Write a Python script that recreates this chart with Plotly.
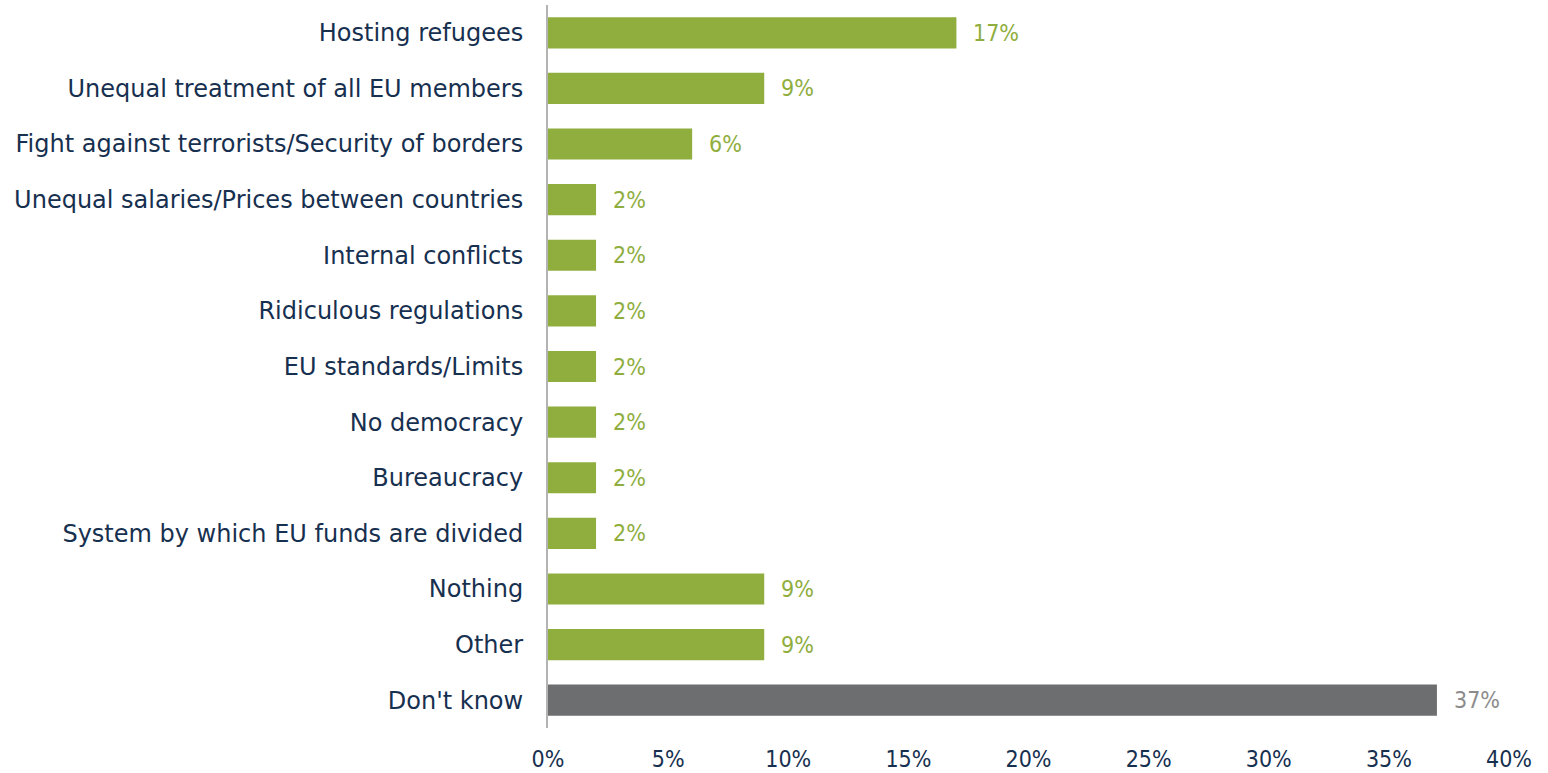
import plotly.graph_objects as go

categories = [
    "Hosting refugees",
    "Unequal treatment of all EU members",
    "Fight against terrorists/Security of borders",
    "Unequal salaries/Prices between countries",
    "Internal conflicts",
    "Ridiculous regulations",
    "EU standards/Limits",
    "No democracy",
    "Bureaucracy",
    "System by which EU funds are divided",
    "Nothing",
    "Other",
    "Don't know",
]
values = [17, 9, 6, 2, 2, 2, 2, 2, 2, 2, 9, 9, 37]
tick_vals = [0, 5, 10, 15, 20, 25, 30, 35, 40]
tick_text = ["0%", "5%", "10%", "15%", "20%", "25%", "30%", "35%", "40%"]

GREEN = "#8fae3e"
GREY = "#6d6e70"
NAVY = "#17304f"
FONT = "DejaVu Sans"
NARROW = "Liberation Sans Narrow, DejaVu Sans Condensed, sans-serif"

bar_colors = [GREY if c == "Don't know" else GREEN for c in categories]
label_colors = ["#8c8c8c" if c == "Don't know" else GREEN for c in categories]

fig = go.Figure()
fig.add_trace(go.Bar(
    x=values,
    y=categories,
    orientation="h",
    marker=dict(color=bar_colors, line=dict(width=0)),
    width=0.56,
    hoverinfo="skip",
))

for c, v, col in zip(categories, values, label_colors):
    fig.add_annotation(
        x=v, y=c, text=f"{v}%", showarrow=False,
        xanchor="left", yanchor="middle", xshift=15,
        font=dict(family=NARROW, size=23, color=col),
    )

fig.update_layout(
    width=1548, height=773,
    margin=dict(l=548, r=39, t=5, b=45, pad=0),
    paper_bgcolor="white", plot_bgcolor="white",
    showlegend=False,
    font=dict(family=FONT, size=24, color=NAVY),
    bargap=0.44,
)
fig.update_xaxes(
    range=[0, 40], tickvals=tick_vals, ticktext=tick_text,
    showgrid=False, zeroline=False, showline=False,
    ticks="outside", ticklen=0, ticklabelstandoff=10,
    tickfont=dict(family=NARROW, size=23, color=NAVY),
    automargin=False,
    fixedrange=True,
)
fig.update_yaxes(
    categoryorder="array", categoryarray=categories,
    autorange="reversed",
    showgrid=False, zeroline=False,
    showline=True, linecolor="#b3b3b3", linewidth=2,
    ticks="outside", ticklen=0, ticklabelstandoff=18,
    tickfont=dict(family=FONT, size=24, color=NAVY),
    automargin=False,
    fixedrange=True,
)

fig.write_html("out.html", config={"displayModeBar": False})
with open("out.html", encoding="utf-8") as f:
    html = f.read()
html = html.replace("<head>", "<head><style>html,body{margin:0;padding:0;overflow:hidden}</style>", 1)
with open("out.html", "w", encoding="utf-8") as f:
    f.write(html)
